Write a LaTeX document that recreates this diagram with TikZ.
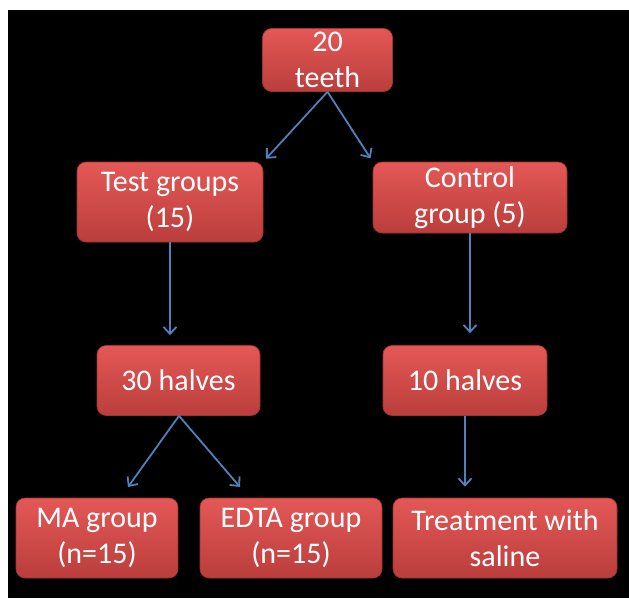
\documentclass[tikz,border=0pt]{standalone}
\usepackage{fontspec}
\setmainfont{Carlito}
\usetikzlibrary{arrows.meta,positioning,calc}

\definecolor{boxtop}{RGB}{228,88,86}
\definecolor{boxbot}{RGB}{186,62,60}
\definecolor{boxline}{RGB}{160,50,48}
\definecolor{arrowblue}{RGB}{79,129,189}

\begin{document}
\begin{tikzpicture}[
    x=1pt, y=-1pt,
    box/.style={rectangle, rounded corners=9pt, top color=boxtop, bottom color=boxbot, draw=boxline, line width=0.6pt, text=white, align=center, inner sep=0pt, font=\fontsize{30}{36}\selectfont},
    arrow/.style={line width=1.8pt, draw=arrowblue, -{Straight Barb[length=7pt,width=13pt,line width=1.8pt]}}
]

% Page and black background
\useasboundingbox (0,0) rectangle (629,598);
\fill[black] (8,10) rectangle (629,598);

% Top
\node[box, minimum width=130pt, minimum height=63pt] (teeth) at (327.5,60) {20\\teeth};

% Second row
\node[box, minimum width=186pt, minimum height=80pt] (test) at (170,202) {Test groups\\(15)};
\node[box, minimum width=194pt, minimum height=71pt] (control) at (470,197.5) {Control\\group (5)};

% Third row
\node[box, minimum width=163pt, minimum height=70pt] (halves30) at (178.5,380.5) {30 halves};
\node[box, minimum width=164pt, minimum height=70pt] (halves10) at (465,380.5) {10 halves};

% Bottom row
\node[box, minimum width=162pt, minimum height=80pt] (ma) at (97,538) {MA group\\(n=15)};
\node[box, minimum width=182pt, minimum height=80pt] (edta) at (291,538) {EDTA group\\(n=15)};
\node[box, minimum width=224pt, minimum height=80pt] (saline) at (505,538) {Treatment with\\saline};

% Arrow ends
\coordinate (maend) at (128,487);
\coordinate (edtaend) at (240,487);

% Arrows
\draw[arrow, shorten >=4pt] (teeth.south) -- (test.north east);
\draw[arrow, shorten >=4pt] (teeth.south) -- (control.north west);
\draw[arrow, shorten >=10pt] (test.south) -- (test.south |- halves30.north);
\draw[arrow, shorten >=12pt] (control.south) -- (control.south |- halves10.north);
\draw[arrow] ($(halves30.south)+(0.5,0)$) -- (maend);
\draw[arrow] ($(halves30.south)+(0.5,0)$) -- (edtaend);
\draw[arrow, shorten >=11pt] (halves10.south) -- (halves10.south |- saline.north);

\end{tikzpicture}
\end{document}
